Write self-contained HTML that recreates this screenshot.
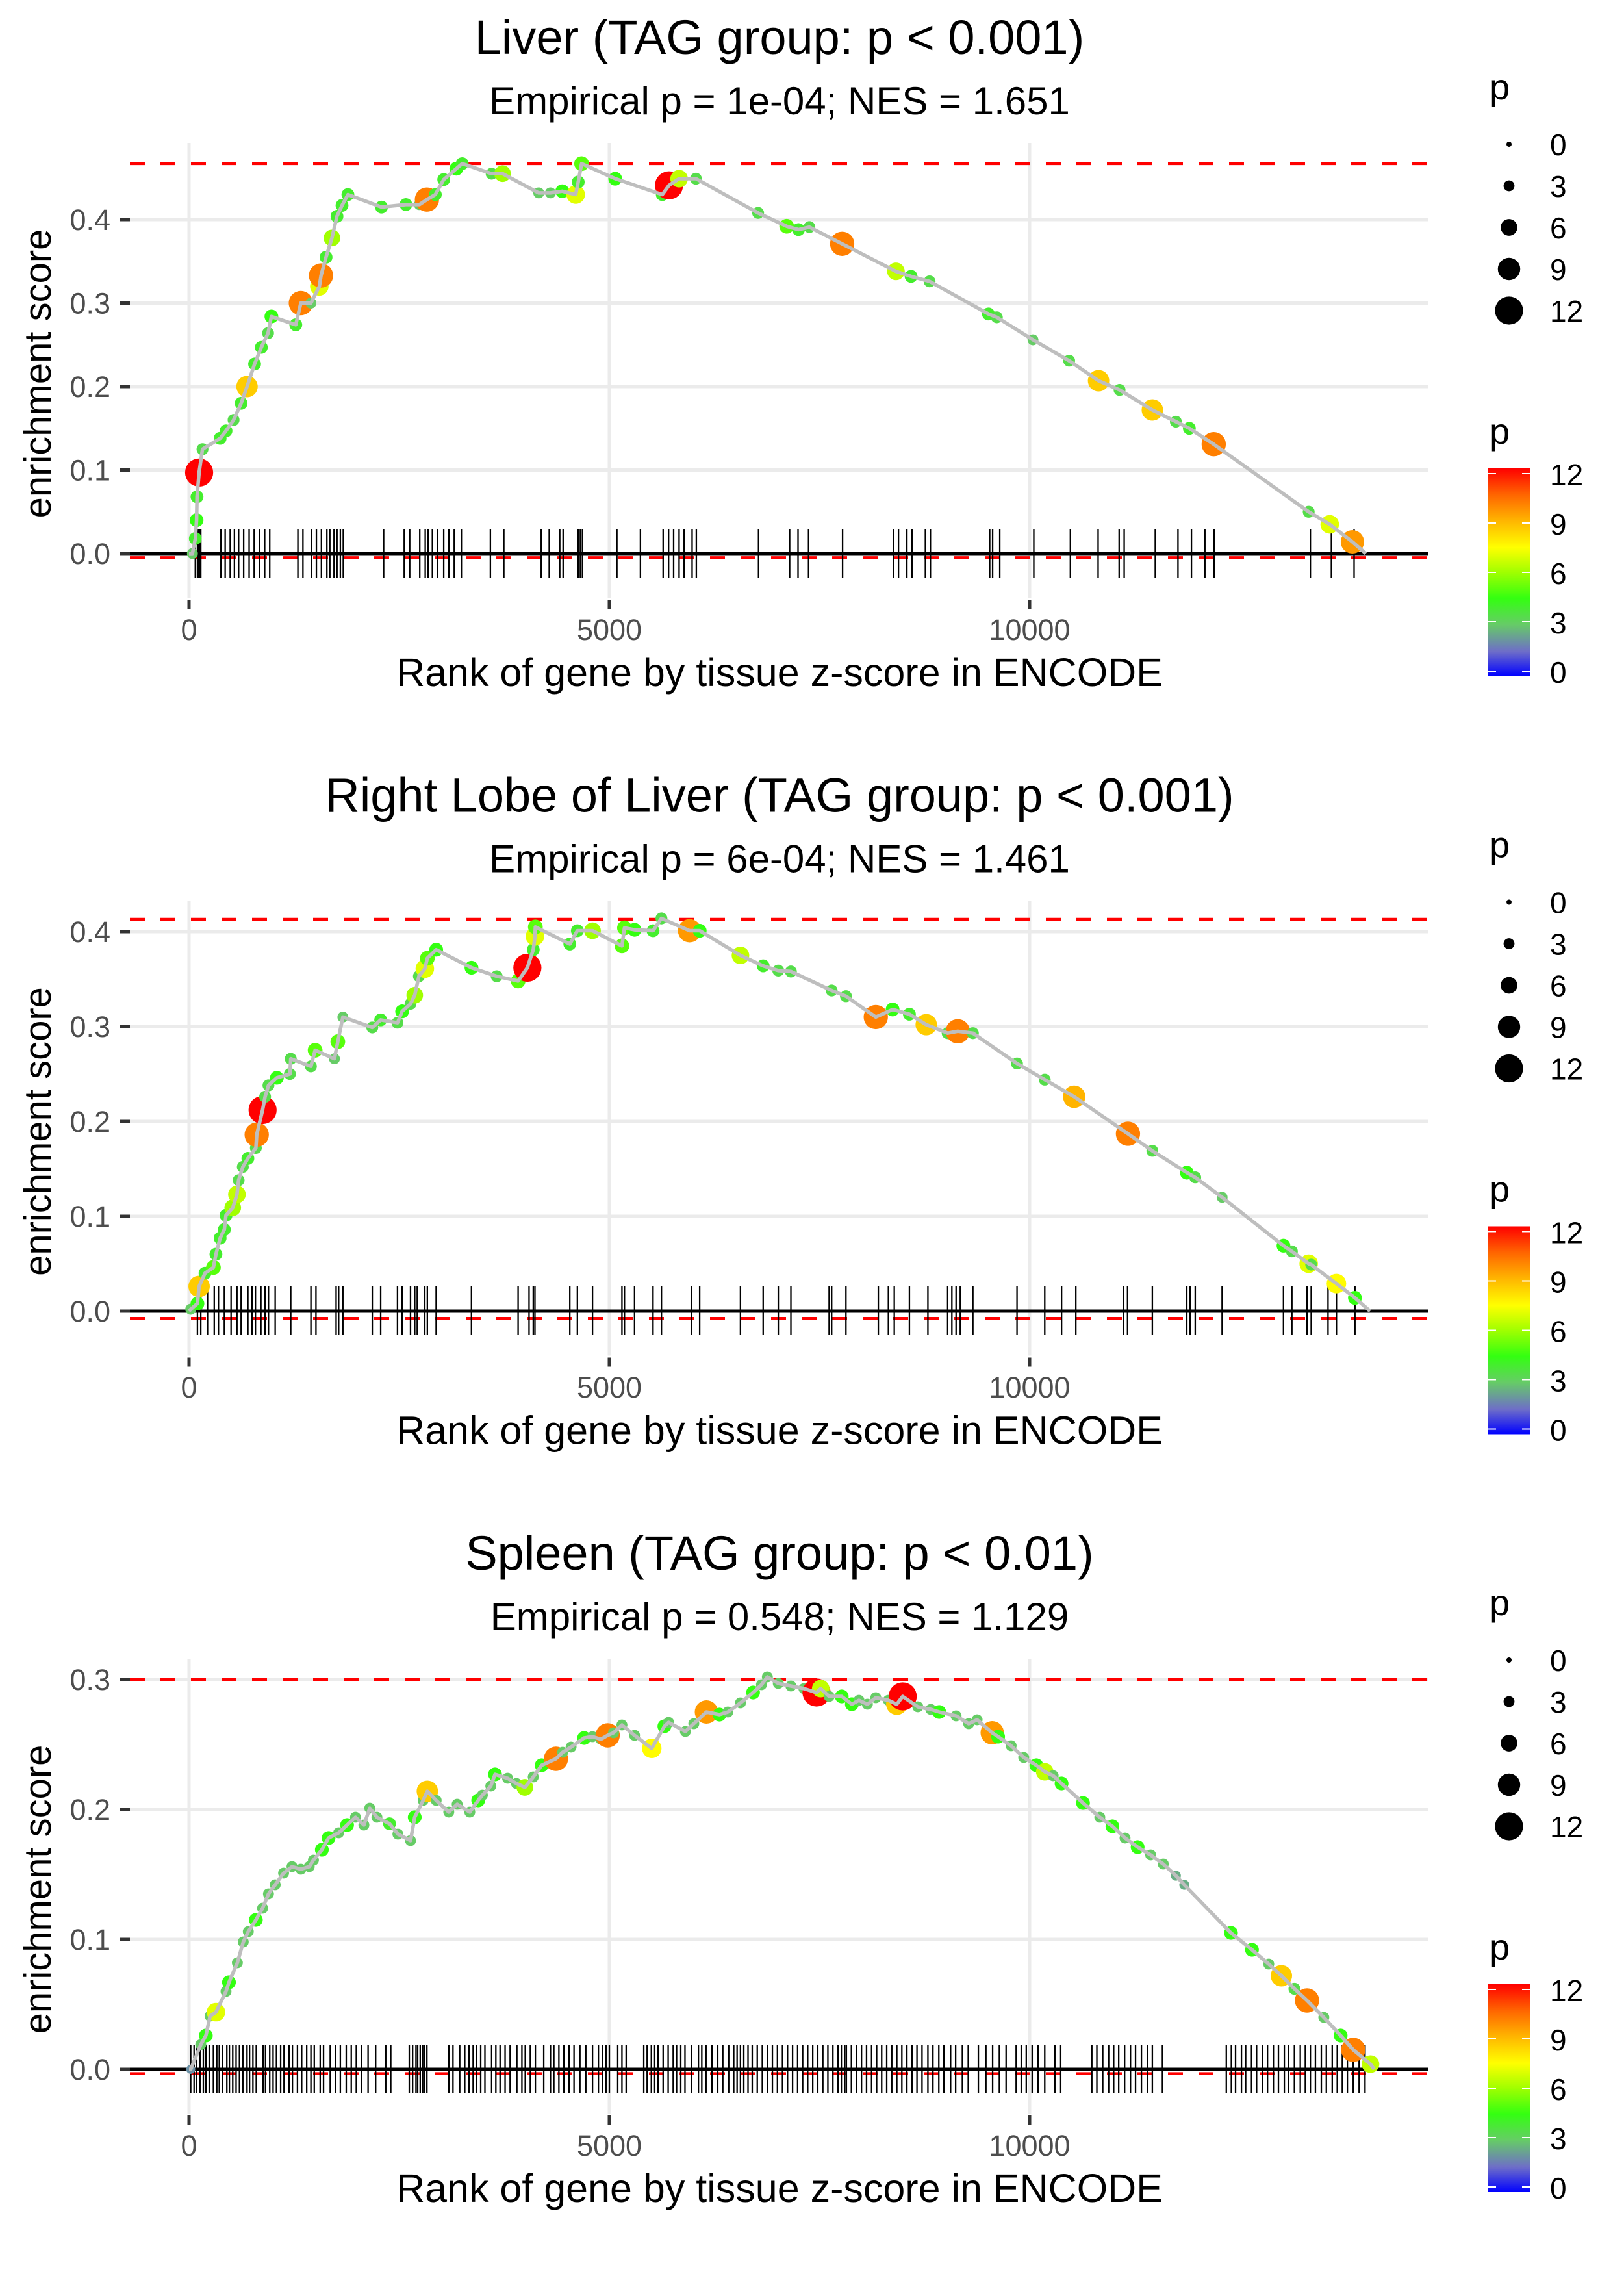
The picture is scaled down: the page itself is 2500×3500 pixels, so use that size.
<!DOCTYPE html>
<html><head><meta charset="utf-8"><style>
html,body{margin:0;padding:0;background:#fff;}
svg{display:block;font-family:"Liberation Sans",Arial,sans-serif;}
</style></head><body>
<svg id="chart" width="2500" height="3500" viewBox="0 0 2500 3500" xmlns="http://www.w3.org/2000/svg"></svg>
<script>
// ---------- DATA ----------
const xTicks=[0,5000,10000];
const titles=["Liver (TAG group: p < 0.001)","Right Lobe of Liver (TAG group: p < 0.001)","Spleen (TAG group: p < 0.01)"];
const subtitles=["Empirical p = 1e-04; NES = 1.651","Empirical p = 6e-04; NES = 1.461","Empirical p = 0.548; NES = 1.129"];
const yTicks1=[0,0.1,0.2,0.3,0.4];
const yTicks2=[0,0.1,0.2,0.3,0.4];
const yTicks3=[0,0.1,0.2,0.3];
const esMax=[0.467,0.413,0.300];
const esMin=[-0.005,-0.0077,-0.0033];
const legendSizes=[0,3,6,9,12];

const p1Rank=[40,75,90,95,120,160,370,440,530,620,690,780,860,940,980,1270,1330,1450,1550,1570,1630,1700,1760,1820,1890,2290,2580,2740,2830,2930,3030,3180,3250,3600,3730,4160,4300,4440,4600,4630,4670,5070,5630,5710,5830,6030,6770,7110,7250,7380,7770,8410,8590,8810,9510,9610,10040,10470,10820,11070,11460,11740,11900,12190,13320,13570,13840,14000];
const p1ES=[0,0.018,0.04,0.068,0.097,0.125,0.138,0.147,0.16,0.18,0.20,0.227,0.247,0.264,0.284,0.274,0.30,0.30,0.32,0.333,0.355,0.378,0.404,0.417,0.43,0.415,0.418,0.418,0.424,0.43,0.448,0.461,0.467,0.455,0.455,0.432,0.432,0.434,0.43,0.445,0.467,0.449,0.43,0.441,0.449,0.449,0.408,0.392,0.388,0.391,0.371,0.338,0.332,0.326,0.287,0.283,0.256,0.231,0.207,0.196,0.172,0.158,0.15,0.131,0.05,0.035,0.014,0];
const p1P=[3,4,4.5,4,12,3.5,4,4,3.5,4,8.5,4,4,3.5,4.5,4,10,3,7,10,4,6,4,4,4,4,4,3,10,4,4,4.5,4,3.5,6,3,3,4.5,7,4,5,4.5,4,12,6.5,3.5,3.5,5,4,3.5,10,6.5,4,3.5,4,3.5,3,3.5,8.5,3.5,8.5,3.5,4,10,3.5,7,9.5,0];
const p1Rug=[75,100,110,125,140,380,430,490,540,590,650,715,775,840,900,960,1295,1355,1455,1515,1575,1640,1675,1725,1760,1800,1835,2315,2560,2625,2745,2810,2845,2895,2955,3030,3090,3155,3240,3585,3745,4190,4285,4410,4450,4630,4655,4680,5090,5370,5640,5705,5765,5830,5890,5985,6035,6775,7145,7245,7370,7775,8380,8440,8540,8600,8760,8820,9525,9560,9645,10050,10485,10815,11065,11125,11495,11765,11925,12085,12195,13340,13590,13860];

const p2Rank=[20,100,120,190,290,320,370,420,440,520,570,590,640,700,795,805,875,905,945,1045,1200,1210,1450,1500,1730,1770,1830,2180,2280,2480,2535,2635,2685,2735,2805,2835,2940,3360,3660,3915,4025,4095,4115,4120,4530,4620,4800,5150,5180,5300,5520,5620,5955,6075,6560,6830,7010,7160,7645,7815,8170,8370,8570,8770,9025,9145,9325,9850,10180,10530,11170,11460,11870,11970,12290,13020,13120,13320,13350,13650,13870,14050];
const p2ES=[0.002,0.008,0.026,0.040,0.046,0.060,0.077,0.086,0.101,0.109,0.123,0.138,0.152,0.161,0.172,0.186,0.212,0.226,0.238,0.246,0.250,0.266,0.258,0.275,0.266,0.284,0.310,0.299,0.307,0.304,0.316,0.324,0.333,0.353,0.361,0.372,0.381,0.362,0.353,0.348,0.362,0.381,0.395,0.405,0.387,0.401,0.401,0.385,0.404,0.402,0.401,0.414,0.401,0.401,0.375,0.364,0.359,0.358,0.338,0.332,0.310,0.318,0.313,0.302,0.293,0.295,0.293,0.261,0.244,0.226,0.187,0.169,0.146,0.141,0.120,0.069,0.063,0.050,0.049,0.029,0.014,0];
const p2P=[3,4.5,8.5,4,5,4,4,4,4,6,6.5,3.5,3.5,4,3.5,10,12,3.5,3.5,4.5,3.5,3.5,3.5,5,3,5,3,3.5,4,3.5,4.5,3.5,6,3.5,7,5,4.5,4.5,3.5,5,12,4,7,5,4,4,6,5,5,4.5,4,3.5,9.5,4.5,6.5,4,3.5,3.5,3.5,3.5,10,4.5,4,8.5,3.5,10,3.5,3.5,3.5,9,10,3.5,4.5,3.5,3,4.5,3.5,7,3.5,7.5,4.5,0];
const p2Rug=[100,140,220,300,350,420,500,570,620,700,750,790,855,905,945,1025,1210,1450,1510,1750,1780,1830,2180,2280,2480,2535,2635,2685,2715,2805,2835,2940,3360,3915,4045,4095,4115,4530,4620,4800,5150,5180,5300,5520,5620,5975,6075,6560,6830,7010,7160,7615,7645,7815,8200,8320,8390,8570,8790,9025,9075,9125,9175,9325,9850,10180,10380,10550,11115,11165,11460,11870,11910,11970,12290,13020,13120,13300,13350,13550,13650,13870];

const p3Rank=[20,140,200,250,320,440,475,575,645,705,795,875,945,1025,1125,1225,1330,1430,1480,1580,1660,1780,1880,1980,2080,2150,2235,2385,2485,2635,2685,2785,2835,2940,3090,3190,3340,3440,3490,3590,3640,3790,3895,3995,4095,4195,4365,4445,4545,4700,4800,4900,4980,5050,5150,5300,5505,5655,5705,5905,6005,6155,6310,6410,6560,6710,6810,6880,7010,7160,7315,7465,7515,7615,7765,7885,7970,8070,8170,8320,8420,8490,8670,8825,8925,9125,9275,9375,9555,9625,9780,9930,10080,10180,10280,10380,10635,10835,10985,11135,11285,11440,11590,11740,11840,12395,12645,12845,12995,13150,13300,13500,13700,13850,14055,14100];
const p3ES=[0,0.019,0.026,0.041,0.044,0.060,0.067,0.082,0.098,0.106,0.115,0.124,0.135,0.142,0.151,0.156,0.154,0.156,0.161,0.169,0.178,0.182,0.188,0.194,0.188,0.201,0.194,0.189,0.181,0.176,0.194,0.207,0.214,0.207,0.198,0.204,0.198,0.207,0.211,0.218,0.227,0.224,0.220,0.217,0.225,0.234,0.239,0.244,0.248,0.255,0.256,0.254,0.257,0.259,0.265,0.257,0.247,0.264,0.267,0.260,0.266,0.275,0.273,0.275,0.282,0.290,0.296,0.302,0.297,0.295,0.293,0.290,0.293,0.287,0.287,0.281,0.284,0.281,0.286,0.284,0.281,0.287,0.279,0.277,0.275,0.272,0.266,0.269,0.259,0.256,0.249,0.240,0.234,0.229,0.226,0.220,0.205,0.194,0.187,0.178,0.171,0.165,0.158,0.149,0.142,0.105,0.092,0.081,0.072,0.062,0.053,0.040,0.026,0.015,0.004,0];
const p3P=[2,3,4.5,3,7,3,4.5,3,3,3,4.5,3,3,3,3,3,3,3,3,4.5,4.5,3,4.5,3,3,3,3,4,3,3,4.5,3,8.5,3,3,3,3,4.5,3,3,4.5,3,3,6,3,4.5,10,3,3,4.5,3,3,10,3,3,3,7.5,4.5,3,3,3,9.5,4.5,3,3,4.5,3,3,3,3,3,12,6.5,3,4.5,4.5,3,3,3,3,8.5,12,3,3,4.5,3,3,3,9.5,4.5,3,3,4.5,6.5,3,4.5,4.5,3,4.5,3,4.5,3,3,2.5,2.5,4.5,4.5,3,8.5,3.5,10,3,4.5,10,6.5,0];
const p3Rug=[20,60,90,130,170,200,240,290,330,360,400,450,480,520,560,600,640,690,720,760,800,880,910,960,1000,1040,1090,1130,1190,1230,1290,1340,1400,1450,1490,1560,1600,1680,1740,1800,1870,1930,1990,2050,2130,2220,2340,2400,2620,2660,2700,2720,2750,2780,2800,2830,3090,3140,3220,3280,3330,3380,3420,3470,3520,3600,3650,3700,3760,3820,3900,3960,4000,4060,4120,4220,4300,4340,4400,4460,4520,4580,4650,4720,4800,4870,4920,4960,5000,5100,5150,5200,5410,5450,5500,5540,5580,5640,5700,5760,5800,5850,5900,5980,6060,6100,6150,6220,6290,6350,6420,6480,6520,6560,6600,6650,6700,6760,6820,6880,6940,7000,7060,7120,7180,7240,7300,7360,7420,7480,7540,7600,7660,7720,7760,7800,7820,7880,7940,8000,8060,8120,8180,8240,8300,8360,8420,8480,8540,8600,8660,8720,8790,8850,8920,8980,9060,9120,9200,9270,9390,9480,9560,9640,9720,9840,9900,9960,10030,10100,10180,10300,10370,10740,10800,10870,10940,11000,11060,11130,11200,11260,11330,11400,11460,11580,12340,12400,12450,12520,12570,12640,12700,12770,12830,12900,12960,13030,13080,13150,13220,13280,13340,13400,13470,13530,13600,13660,13720,13780,13850,13920,13990];

// ---------- LAYOUT ----------
const NS="http://www.w3.org/2000/svg";
const svg=document.getElementById('chart');
const PL=200,PR=2199,X0=291,XPER=647/5000;
const panelOff=1166.5;
const TX=1200;
const layout=[{y0:852,per:1285},{y0:2018,per:1460},{y0:3185,per:2000}];
const panelData=[
 {rank:p1Rank,es:p1ES,p:p1P,rug:p1Rug,ticks:yTicks1},
 {rank:p2Rank,es:p2ES,p:p2P,rug:p2Rug,ticks:yTicks2},
 {rank:p3Rank,es:p3ES,p:p3P,rug:p3Rug,ticks:yTicks3}];
const stops=[[0,[0,0,255]],[0.12,[110,110,200]],[0.25,[102,204,102]],[0.375,[51,255,17]],[0.5,[160,255,0]],[0.62,[255,255,0]],[0.75,[255,180,0]],[0.875,[255,100,0]],[1,[255,0,0]]];
function col(p){const t=Math.max(0,Math.min(1,p/12));for(let i=1;i<stops.length;i++){if(t<=stops[i][0]){const a=stops[i-1],b=stops[i];const f=(t-a[0])/(b[0]-a[0]);const c=a[1].map((v,k)=>Math.round(v+(b[1][k]-v)*f));return `rgb(${c[0]},${c[1]},${c[2]})`;}}return 'rgb(255,0,0)';}
function rad(p){return 4+1.47*p;}
function xs(r){return X0+r*XPER;}
function mk(tag,attrs,parent){const e=document.createElementNS(NS,tag);for(const k in attrs)e.setAttribute(k,attrs[k]);(parent||svg).appendChild(e);return e;}

layout.forEach((L,i)=>{
 const D=panelData[i];
 const off=i*panelOff;
 const ys=v=>L.y0-v*L.per;
 const top=220+off,bot=920+off;
 const g=mk('g',{});
 
 
 D.ticks.forEach(t=>{const l=mk('line',{x1:PL,x2:PR,y1:ys(t),y2:ys(t),stroke:'#ebebeb','stroke-width':5},g);
  
  });
 xTicks.forEach(t=>{const l=mk('line',{x1:xs(t),x2:xs(t),y1:top,y2:bot,stroke:'#ebebeb','stroke-width':5},g);
  
  });
 D.ticks.forEach(t=>{const m=mk('line',{x1:185,x2:200,y1:ys(t),y2:ys(t),stroke:'#333','stroke-width':5},g);
  
  
  const tx=mk('text',{x:170,y:ys(t)+16,'text-anchor':'end','font-size':45,fill:'#4d4d4d'},g);tx.textContent=t.toFixed(1);
  
  });
 xTicks.forEach(t=>{const m=mk('line',{x1:xs(t),x2:xs(t),y1:bot+3,y2:bot+17,stroke:'#333','stroke-width':5},g);
  
  
  const tx=mk('text',{x:xs(t),y:L.y0+133,'text-anchor':'middle','font-size':45,fill:'#4d4d4d'},g);tx.textContent=t;
  
  });
 [esMax[i],esMin[i]].forEach((v,k)=>{const l=mk('line',{x1:PL,x2:PR,y1:ys(v),y2:ys(v),stroke:'#ff0000','stroke-width':4.5,'stroke-dasharray':'23 24'},g);
  
  });
 const z=mk('line',{x1:PL,x2:PR,y1:ys(0),y2:ys(0),stroke:'#000','stroke-width':5},g);
 
 
 const rg=mk('g',{},g);
 
 
 D.rug.forEach(r=>{const l=mk('line',{x1:xs(r),x2:xs(r),y1:ys(0)-38,y2:ys(0)+37,stroke:'#000','stroke-width':2.3},rg);
  
  });
 D.rank.forEach((r,j)=>{if(D.p[j]<=0)return;const c=mk('circle',{cx:xs(r),cy:ys(D.es[j]),r:rad(D.p[j]),fill:col(D.p[j])},g);
  
  });
 const pts=D.rank.map((r,j)=>xs(r).toFixed(1)+','+ys(D.es[j]).toFixed(1));
 pts.unshift(xs(0)+','+ys(0));
 const pl=mk('polyline',{points:pts.join(' '),fill:'none',stroke:'#bebebe','stroke-width':5.5,'stroke-linejoin':'round'},g);
 
 
 const t1=mk('text',{x:TX,y:83+off,'text-anchor':'middle','font-size':74,fill:'#000'},g);t1.textContent=titles[i];
 
 
 const t2=mk('text',{x:TX,y:176+off,'text-anchor':'middle','font-size':60,fill:'#000'},g);t2.textContent=subtitles[i];
 
 
 const xt=mk('text',{x:TX,y:1056+off,'text-anchor':'middle','font-size':61,fill:'#000'},g);xt.textContent='Rank of gene by tissue z-score in ENCODE';
 
 
 const yt=mk('text',{x:0,y:0,'text-anchor':'middle','font-size':58,fill:'#000',transform:`translate(78,${575+off}) rotate(-90)`},g);yt.textContent='enrichment score';
 
 
 const lg=mk('g',{},g);
 
 
 const lt=mk('text',{x:2293,y:153+off,'font-size':56,fill:'#000'},lg);lt.textContent='p';
 
 
 legendSizes.forEach((s,k)=>{const cy=222+k*64+off;
  const c=mk('circle',{cx:2323,cy:cy,r:rad(s),fill:'#000'},lg);
  
  
  const tx=mk('text',{x:2386,y:cy+17,'font-size':46,fill:'#000'},lg);tx.textContent=s;
  
  });
 const cg=mk('g',{},g);
 
 
 const ct=mk('text',{x:2293,y:683+off,'font-size':56,fill:'#000'},cg);ct.textContent='p';
 
 
 const gid='grad'+i;
 const defs=mk('defs',{},cg);const lgd=mk('linearGradient',{id:gid,x1:0,y1:1,x2:0,y2:0},defs);
 stops.forEach(s=>mk('stop',{offset:s[0],'stop-color':`rgb(${s[1].join(',')})`},lgd));
 const barTop=721+off,barBot=1041+off,t12=729+off,t0=1033+off;
 const bar=mk('rect',{x:2291,y:barTop,width:64,height:barBot-barTop,fill:`url(#${gid})`},cg);
 
 
 legendSizes.forEach(s=>{const y=t0-(t0-t12)*s/12;
  [[2291,2303],[2343,2355]].forEach(xx=>{const l=mk('line',{x1:xx[0],x2:xx[1],y1:y,y2:y,stroke:'#fff','stroke-width':2},cg);
   
   });
  const tx=mk('text',{x:2386,y:y+18,'font-size':46,fill:'#000'},cg);tx.textContent=s;
  
  });
});
</script>
</body></html>
